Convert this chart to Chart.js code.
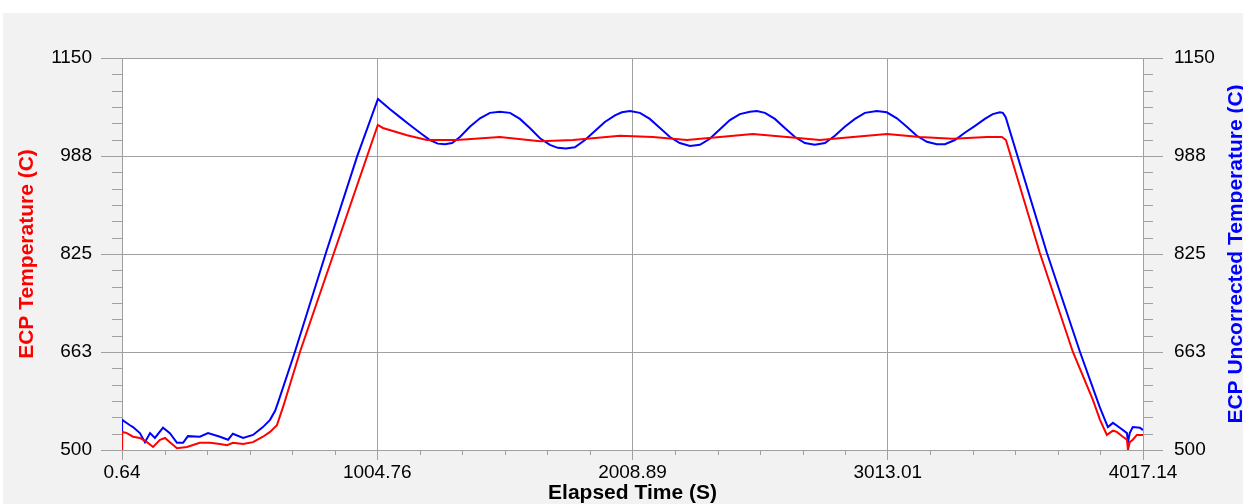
<!DOCTYPE html>
<html>
<head>
<meta charset="utf-8">
<script src="https://cdn.jsdelivr.net/npm/chart.js@4.4.1/dist/chart.umd.min.js"></script>
<style>
  html, body { margin: 0; padding: 0; background: #fff; }
  canvas { display: block; }
</style>
</head>
<body>
<canvas id="ecp" width="1243" height="504"></canvas>
<script>
// tick values and their labels
const xTicks = [0.64, 1004.76, 2008.89, 3013.01, 4017.14];
const xTickLabels = ['0.64', '1004.76', '2008.89', '3013.01', '4017.14'];
const yTicks = [500, 662.5, 825, 987.5, 1150];
const yTickLabels = ['500', '663', '825', '988', '1150'];

// ECP Temperature (C) - red, left axis
const redTime = [0.64, 1, 20, 44, 71, 99, 123, 150, 170, 189, 217, 256, 307, 347, 386, 414, 437, 477, 516, 555,
  583, 610, 634, 701, 1007, 1027, 1122, 1200, 1318, 1487, 1645, 1775, 1960, 2089, 2223, 2353, 2482, 2616,
  2746, 2876, 3010, 3139, 3269, 3403, 3462, 3478, 3611, 3741, 3820, 3848, 3875, 3899, 3914, 3938, 3954, 3958, 3965, 3977,
  3993, 4017.14];
const redTemp = [500, 530, 528, 522, 520, 513, 505, 517, 520, 513, 503, 505, 512, 512, 510, 508, 512, 510, 513, 522,
  530, 541, 571, 663, 1039, 1034, 1022, 1014, 1014, 1019, 1012, 1014, 1021, 1019, 1014, 1019, 1024, 1019,
  1014, 1019, 1024, 1019, 1016, 1019, 1019, 1014, 827, 663, 583, 550, 525, 532, 530, 522, 517, 500, 513, 517,
  525, 525];

// ECP Uncorrected Temperature (C) - blue, right axis
const blueTime = [0.64, 1, 32, 44, 71, 91, 111, 130, 162, 189, 217, 241, 260, 307, 339, 386, 418, 437, 477, 516,
  555, 583, 603, 618, 681, 803, 925, 1007.5,
  1055, 1094, 1133, 1173, 1212, 1243, 1271, 1299, 1330, 1369,
  1409, 1448, 1487, 1527, 1566, 1605, 1645, 1684, 1715, 1747,
  1782, 1822, 1861, 1900, 1940, 1967, 1999, 2038, 2077, 2117,
  2156, 2195, 2235, 2274, 2313, 2353, 2392, 2431, 2471, 2498,
  2530, 2569, 2608, 2648, 2687, 2726, 2766, 2805, 2844, 2884,
  2923, 2970, 3009, 3049, 3088, 3127, 3167, 3206, 3238, 3277,
  3316, 3355, 3395, 3426, 3454, 3466, 3477,
  3639, 3769, 3847, 3879, 3899, 3926, 3954, 3958, 3965, 3977, 4005, 4017.14];
const blueTemp = [500, 550, 541, 538, 528, 513, 528, 520, 537, 528, 512, 512, 523, 522, 528, 522, 517, 527, 520, 525,
  538, 550, 565, 583, 663, 827, 986, 1082,
  1065, 1052, 1039, 1026, 1014, 1008, 1007, 1009, 1019, 1036,
  1050, 1059, 1061, 1059, 1049, 1034, 1017, 1006, 1001, 1000,
  1002, 1014, 1029, 1044, 1055, 1060, 1062, 1059, 1049, 1034,
  1019, 1009, 1004, 1006, 1016, 1032, 1047, 1057, 1061, 1062,
  1059, 1049, 1034, 1019, 1009, 1006, 1009, 1021, 1036, 1049,
  1059, 1062, 1060, 1050, 1036, 1021, 1011, 1007, 1007, 1014,
  1026, 1037, 1049, 1057, 1060, 1059, 1052,
  827, 663, 571, 538, 545, 537, 528, 513, 528, 538, 537, 533];

const gridGray = '#a0a0a0';
Chart.defaults.font.family = "'Liberation Sans', Arial, sans-serif";
Chart.defaults.color = '#000';

const backdrop = {
  id: 'backdrop',
  beforeDraw(chart) {
    const ctx = chart.ctx, a = chart.chartArea;
    ctx.save();
    ctx.fillStyle = '#fff';
    ctx.fillRect(0, 0, chart.width, chart.height);
    ctx.fillStyle = '#f2f2f2';
    ctx.fillRect(3, 13, chart.width - 3, chart.height - 13);
    ctx.fillStyle = '#fff';
    ctx.fillRect(a.left, a.top, a.right - a.left, a.bottom - a.top);
    ctx.restore();
  }
};

// short minor ticks between the labelled ones, plus the right axis title
const extras = {
  id: 'extras',
  afterDraw(chart) {
    const ctx = chart.ctx;
    const sx = chart.scales.x, sy = chart.scales.y, sy1 = chart.scales.y1;
    ctx.save();
    ctx.strokeStyle = gridGray;
    ctx.lineWidth = 1;
    ctx.beginPath();
    for (let i = 0; i < xTicks.length - 1; i++) {
      const step = (xTicks[i + 1] - xTicks[i]) / 6;
      for (let k = 1; k < 6; k++) {
        const px = Math.round(sx.getPixelForValue(xTicks[i] + k * step)) + 0.5;
        ctx.moveTo(px, sx.top);
        ctx.lineTo(px, sx.top + 5);
      }
    }
    for (let i = 0; i < yTicks.length - 1; i++) {
      const step = (yTicks[i + 1] - yTicks[i]) / 6;
      for (let k = 1; k < 6; k++) {
        const py = Math.round(sy.getPixelForValue(yTicks[i] + k * step)) + 0.5;
        ctx.moveTo(sy.right - 10, py);
        ctx.lineTo(sy.right, py);
        ctx.moveTo(sy1.left, py);
        ctx.lineTo(sy1.left + 10, py);
      }
    }
    ctx.stroke();

    const a = chart.chartArea;
    ctx.translate(1236, (a.top + a.bottom) / 2);
    ctx.rotate(-Math.PI / 2);
    ctx.fillStyle = '#0000ff';
    ctx.font = "bold 21px 'Liberation Sans', Arial, sans-serif";
    ctx.textAlign = 'center';
    ctx.textBaseline = 'middle';
    ctx.fillText('ECP Uncorrected Temperature (C)', 0, 0);
    ctx.restore();
  }
};

function setTicks(values) {
  return scale => { scale.ticks = values.map(v => ({ value: v })); };
}

new Chart(document.getElementById('ecp').getContext('2d'), {
  type: 'line',
  data: {
    datasets: [{
      label: 'ECP Temperature (C)',
      data: redTime.map((t, i) => ({ x: t, y: redTemp[i] })),
      borderColor: '#ff0000',
      borderWidth: 2,
      pointRadius: 0,
      tension: 0,
      yAxisID: 'y'
    }, {
      label: 'ECP Uncorrected Temperature (C)',
      data: blueTime.map((t, i) => ({ x: t, y: blueTemp[i] })),
      borderColor: '#0000ff',
      borderWidth: 2,
      pointRadius: 0,
      tension: 0,
      yAxisID: 'y1'
    }]
  },
  options: {
    responsive: false,
    animation: false,
    layout: { padding: { top: 58, left: 0, right: 0, bottom: 0 } },
    plugins: { legend: { display: false }, tooltip: { enabled: false } },
    scales: {
      x: {
        type: 'linear',
        min: 0.64,
        max: 4017.14,
        afterBuildTicks: setTicks(xTicks),
        afterFit: s => { s.height = 54; },
        ticks: {
          font: { size: 19 },
          padding: 1,
          maxRotation: 0,
          autoSkip: false,
          callback: (v, i) => xTickLabels[i]
        },
        grid: { color: gridGray, tickColor: gridGray, tickLength: 10 },
        border: { color: gridGray },
        title: {
          display: true,
          text: 'Elapsed Time (S)',
          font: { size: 21, weight: 'bold', lineHeight: 1 },
          padding: { top: 0, bottom: 0 }
        }
      },
      y: {
        position: 'left',
        min: 500,
        max: 1150,
        afterBuildTicks: setTicks(yTicks),
        afterFit: s => { s.width = 122; },
        ticks: {
          font: { size: 19 },
          padding: 9,
          autoSkip: false,
          callback: (v, i) => yTickLabels[i]
        },
        grid: { color: gridGray, tickColor: gridGray, tickLength: 21 },
        border: { color: gridGray },
        title: {
          display: true,
          text: 'ECP Temperature (C)',
          color: '#ff0000',
          font: { size: 21, weight: 'bold', lineHeight: 1 },
          padding: { top: 17, bottom: 0 }
        }
      },
      y1: {
        position: 'right',
        min: 500,
        max: 1150,
        afterBuildTicks: setTicks(yTicks),
        afterFit: s => { s.width = 100; },
        ticks: {
          font: { size: 19 },
          padding: 11,
          autoSkip: false,
          callback: (v, i) => yTickLabels[i]
        },
        grid: { drawOnChartArea: false, color: gridGray, tickColor: gridGray, tickLength: 20 },
        border: { color: gridGray }
      }
    }
  },
  plugins: [backdrop, extras]
});
</script>
</body>
</html>
